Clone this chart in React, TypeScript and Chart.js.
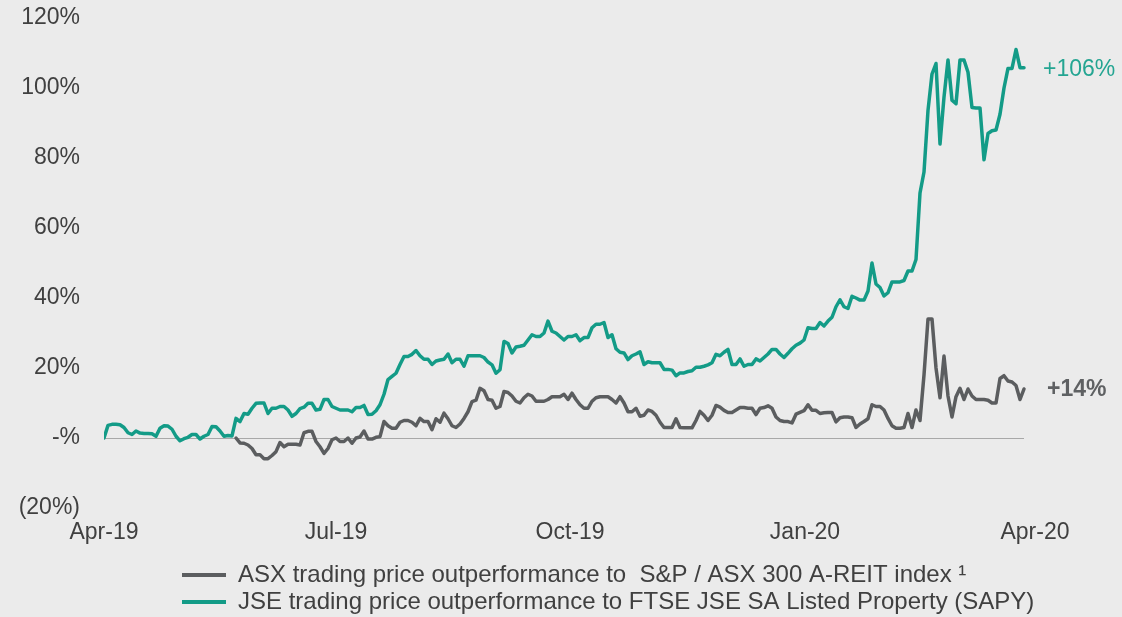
import React, { useEffect, useRef } from "react";
import { Chart, registerables } from "chart.js";

Chart.register(...registerables);

// ---------- data ----------
const SERIES_NAMES = [
  "ASX trading price outperformance to  S&P / ASX 300 A-REIT index \u00B9",
  "JSE trading price outperformance to FTSE JSE SA Listed Property (SAPY)",
];

// x = trading-day index (uniform step); ASX series starts later than JSE
const ASX_START_INDEX = 33;

const ASX: number[] = [
  0, -1.4, -1.5, -2.0, -3.0, -4.8, -4.8,
  -5.9, -5.9, -5.0, -3.9, -1.3, -2.5, -1.8, -1.8, -1.8, -2.0,
  1.5, 1.9, 1.9, -1.0, -2.5, -4.4, -3.0, -0.5, 0, -1.0,
  -1.0, 0, -1.5, 0, 0.3, 2.0, -0.3, -0.3, 0.2, 0.4,
  4.7, 3.5, 2.8, 2.8, 4.5, 5.0, 5.0, 4.5, 3.5, 5.6,
  4.7, 4.7, 2.4, 5.5, 4.5, 7.1, 5.5, 3.5, 3.0, 4.0,
  5.6, 7.5, 10.4, 10.8, 14.2, 13.5, 11.0, 10.8, 8.5, 9.0,
  13.3, 13.0, 12.0, 10.5, 10.0, 11.5, 12.5, 12.0, 10.5, 10.5,
  10.5, 11.0, 11.8, 11.8, 11.8, 12.5, 11.0, 12.8, 11.0, 9.5,
  8.5, 8.5, 10.5, 11.5, 11.8, 11.8, 11.8, 11.0, 10.0, 11.8,
  10.0, 7.5, 7.5, 8.5, 6.2, 6.5, 8.0, 7.6, 6.5, 4.5,
  3.0, 3.0, 3.0, 5.5, 3.0, 2.9, 2.9, 2.9, 5.0, 7.6,
  6.5, 5.0, 6.5, 9.3, 8.8, 7.9, 7.3, 7.3, 8.0, 8.7,
  8.7, 8.5, 8.5, 6.7, 8.5, 8.7, 9.2, 8.5, 6.0, 5.0,
  4.7, 4.7, 4.3, 6.8, 7.3, 7.8, 9.5, 7.9, 7.9, 7.0,
  7.2, 7.3, 7.3, 4.6, 5.8, 6.0, 6.0, 5.8, 3.0, 4.0,
  4.7, 5.5, 9.5, 9.0, 9.0, 8.0, 5.6, 3.5, 2.8, 2.8,
  3.0, 7.0, 3.0, 8.0, 5.0, 18.0, 34.0, 34.0, 20.0, 11.5,
  23.4, 12.0, 6.0, 11.8, 14.2, 11.0, 14.0, 12.0, 11.0, 11.0,
  11.0, 10.8, 10.0, 10.0, 17.0, 17.8, 16.3, 16.0, 15.0, 11.0, 14.0,
];

const JSE: number[] = [
  0, 3.6, 3.9, 3.9, 3.8, 3.0, 1.5, 1.0, 2.0, 1.4,
  1.3, 1.3, 1.2, 0.5, 2.8, 3.5, 3.4, 2.5, 0.5, -0.8,
  -0.2, 0.2, 1.0, 1.0, -0.3, 0.5, 1.0, 3.3, 3.2, 2.0,
  0.5, 0.7, 0.6, 5.6, 4.7, 7.0, 6.8, 8.5, 9.9, 10.0,
  10.0, 7.0, 8.5, 8.5, 9.0, 9.0, 8.0, 6.2, 7.0, 8.4,
  8.8, 9.9, 9.9, 8.0, 8.2, 11.0, 11.0, 9.0, 8.5, 8.0,
  8.0, 8.0, 7.5, 8.7, 8.7, 9.3, 6.7, 6.8, 7.8, 9.5,
  12.5, 16.7, 17.6, 18.5, 21.0, 23.3, 23.3, 23.9, 25.0, 23.5,
  22.5, 22.5, 21.0, 22.0, 22.3, 22.5, 24.0, 21.5, 22.5, 22.5,
  20.5, 23.5, 23.5, 23.5, 23.5, 23.0, 21.7, 20.9, 18.5, 19.5,
  27.6, 27.0, 24.3, 26.0, 26.2, 26.5, 28.0, 29.5, 29.0, 29.0,
  30.0, 33.4, 30.5, 30.0, 29.0, 28.0, 29.0, 29.0, 29.5, 27.8,
  28.7, 28.7, 31.5, 32.5, 32.5, 33.0, 28.7, 29.5, 25.5, 24.5,
  24.3, 22.4, 23.5, 24.0, 24.6, 21.0, 21.8, 21.5, 21.5, 21.5,
  19.6, 19.6, 19.4, 17.8, 18.6, 18.6, 19.0, 19.2, 20.2, 20.2,
  20.5, 20.9, 21.5, 23.9, 23.5, 24.5, 25.3, 21.0, 21.0, 22.6,
  20.5, 21.0, 21.0, 22.6, 22.0, 23.0, 24.0, 25.3, 25.3, 24.0,
  23.0, 24.2, 25.5, 26.5, 27.1, 28.0, 31.5, 31.3, 31.3, 33.0,
  32.0, 33.4, 34.5, 37.5, 39.5, 37.5, 37.0, 40.5, 40.0, 39.4,
  39.4, 42.0, 50.0, 44.0, 43.0, 40.6, 41.5, 44.6, 44.6, 44.6,
  45.0, 47.7, 47.7, 51.0, 70.0, 76.0, 93.6, 104.0, 107.0, 84.0,
  97.4, 108.0, 96.5, 95.5, 108.0, 108.0, 104.5, 94.4, 94.3, 94.3,
  79.5, 87.0, 87.8, 88.0, 92.5, 100.0, 105.6, 105.6, 111.0, 105.8, 105.8,
];

const X_TICK_POS = [0, 58, 116.5, 175.25, 232.75];
const X_TICK_LABELS = ["Apr-19", "Jul-19", "Oct-19", "Jan-20", "Apr-20"];
const X_MAX = 233;

const Y_MIN = -20;
const Y_MAX = 120;
const Y_STEP = 20;

const END_LABELS = ["+14%", "+106%"];
const END_VALUES = [14, 106];

// ---------- styles ----------
const FONT = "'Liberation Sans', Arial, Helvetica, sans-serif";
const TEXT_COLOR = "#404040";
const ASX_COLOR = "#5b5d5f";
const JSE_COLOR = "#139b87";
const JSE_LABEL_COLOR = "#24a592";
const ASX_LABEL_COLOR = "#5f6163";
const BG = "#ebebeb";

const yLabel = (v: number) => {
  if (v === 0) return "-%";
  if (v < 0) return `(${-v}%)`;
  return `${v}%`;
};

const zeroLinePlugin = {
  id: "zeroLine",
  beforeDatasetsDraw(chart: any) {
    const { ctx, scales } = chart;
    const x = scales.x;
    const y = scales.y;
    const py = Math.round(y.getPixelForValue(0)) + 0.5;
    ctx.save();
    ctx.strokeStyle = "#a8a8a8";
    ctx.lineWidth = 1;
    ctx.beginPath();
    ctx.moveTo(x.getPixelForValue(0), py);
    ctx.lineTo(x.getPixelForValue(JSE.length - 1), py);
    ctx.stroke();
    ctx.restore();
  },
};

const endLabelPlugin = {
  id: "endLabels",
  afterDatasetsDraw(chart: any) {
    const { ctx, scales } = chart;
    const x = scales.x;
    const y = scales.y;
    ctx.save();
    ctx.textAlign = "left";
    ctx.textBaseline = "middle";
    ctx.font = `23px ${FONT}`;
    ctx.fillStyle = JSE_LABEL_COLOR;
    ctx.fillText(
      END_LABELS[1],
      x.getPixelForValue(JSE.length - 1) + 19,
      y.getPixelForValue(END_VALUES[1]) + 3
    );
    ctx.font = `bold 23px ${FONT}`;
    ctx.fillStyle = ASX_LABEL_COLOR;
    ctx.fillText(
      END_LABELS[0],
      x.getPixelForValue(ASX_START_INDEX + ASX.length - 1) + 23,
      y.getPixelForValue(END_VALUES[0]) + 1
    );
    ctx.restore();
  },
};

const legendPlacePlugin = {
  id: "legendPlace",
  afterLayout(chart: any) {
    const lg = chart.legend;
    if (!lg) return;
    const h = lg.height;
    const w = lg.width;
    lg.left = 179;
    lg.right = lg.left + w;
    lg.top = 560;
    lg.bottom = lg.top + h;
  },
};

export default function App() {
  const canvasRef = useRef<HTMLCanvasElement | null>(null);

  useEffect(() => {
    document.body.style.margin = "0";
    document.documentElement.style.overflow = "hidden";
    const canvas = canvasRef.current;
    if (!canvas) return;

    const chart = new Chart(canvas, {
      type: "line",
      data: {
        datasets: [
          {
            label: SERIES_NAMES[0],
            data: ASX.map((v, i) => ({ x: i + ASX_START_INDEX, y: v })),
            borderColor: ASX_COLOR,
            backgroundColor: ASX_COLOR,
            borderWidth: 3.5,
            pointRadius: 0,
            tension: 0,
            borderJoinStyle: "round",
            borderCapStyle: "round",
          },
          {
            label: SERIES_NAMES[1],
            data: JSE.map((v, i) => ({ x: i, y: v })),
            borderColor: JSE_COLOR,
            backgroundColor: JSE_COLOR,
            borderWidth: 3.5,
            pointRadius: 0,
            tension: 0,
            borderJoinStyle: "round",
            borderCapStyle: "round",
          },
        ],
      },
      options: {
        responsive: true,
        maintainAspectRatio: false,
        animation: false,
        events: [],
        layout: { padding: { top: 18, right: 86, left: 0, bottom: 0 } },
        plugins: {
          tooltip: { enabled: false },
          legend: {
            position: "bottom",
            align: "start",
            labels: {
              boxWidth: 44,
              boxHeight: 4,
              padding: 3,
              color: TEXT_COLOR,
              font: { family: FONT, size: 24 },
              generateLabels: (c: any) =>
                c.data.datasets.map((ds: any, i: number) => ({
                  text: ds.label,
                  fillStyle: ds.borderColor,
                  strokeStyle: ds.borderColor,
                  lineWidth: 0,
                  hidden: false,
                  datasetIndex: i,
                  fontColor: TEXT_COLOR,
                })),
            },
          },
        },
        scales: {
          x: {
            type: "linear",
            min: 0,
            max: X_MAX,
            grid: { display: false, drawTicks: false },
            border: { display: false },
            ticks: {
              padding: 11,
              color: TEXT_COLOR,
              font: { family: FONT, size: 23 },
              autoSkip: false,
              maxRotation: 0,
              callback: (v: any) => {
                const k = X_TICK_POS.indexOf(Number(v));
                return k >= 0 ? X_TICK_LABELS[k] : "";
              },
            },
            afterBuildTicks: (axis: any) => {
              axis.ticks = X_TICK_POS.map((v) => ({ value: v }));
            },
            afterFit: (axis: any) => {
              axis.height = 45;
            },
          },
          y: {
            min: Y_MIN,
            max: Y_MAX,
            grid: { display: false, drawTicks: false },
            border: { display: false },
            ticks: {
              stepSize: Y_STEP,
              padding: 24,
              color: TEXT_COLOR,
              font: { family: FONT, size: 23 },
              callback: (v: any) => yLabel(Number(v)),
            },
            afterFit: (axis: any) => {
              axis.width = 104;
              axis.paddingTop = 0;
              axis.paddingBottom = 0;
            },
          },
        },
      },
      plugins: [zeroLinePlugin, endLabelPlugin, legendPlacePlugin],
    } as any);

    return () => chart.destroy();
  }, []);

  return (
    <div style={{ width: 1122, height: 617, background: BG, position: "relative", overflow: "hidden" }}>
      <canvas ref={canvasRef} />
    </div>
  );
}
